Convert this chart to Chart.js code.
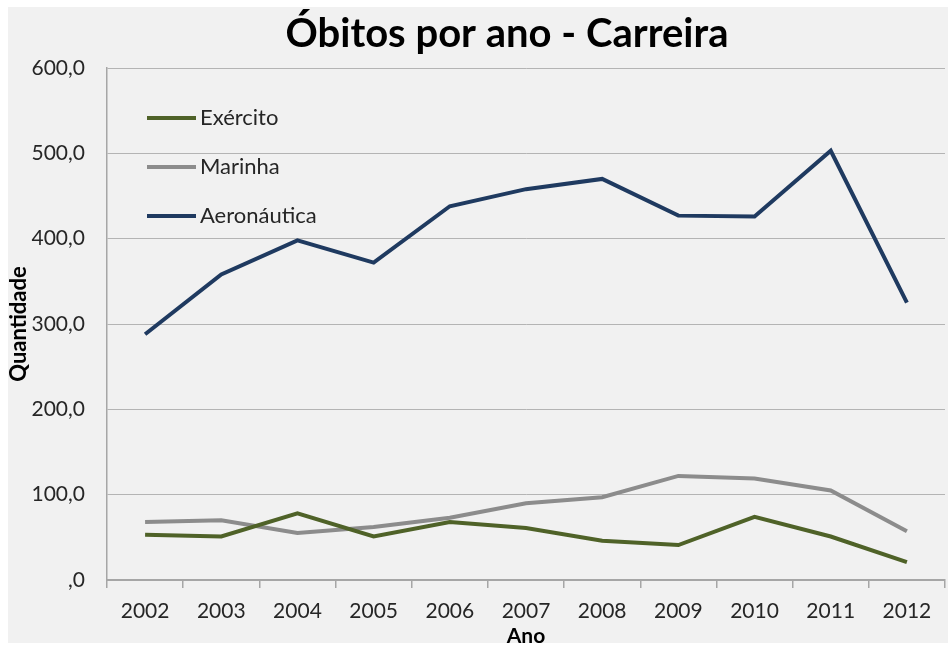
<!DOCTYPE html>
<html>
<head>
<meta charset="utf-8">
<script src="https://cdn.jsdelivr.net/npm/chart.js@4"></script>
<style>
  html, body { margin: 0; padding: 0; background: #ffffff; }
  #wrap { width: 948px; height: 646px; }
</style>
</head>
<body>
<div id="wrap"><canvas id="obitosChart" width="948" height="646"></canvas></div>
<script>
// Óbitos por ano - Carreira

const anos = ['2002', '2003', '2004', '2005', '2006', '2007', '2008', '2009', '2010', '2011', '2012'];
const exercito = [53, 51, 78, 51, 68, 61, 46, 41, 74, 51, 21];
const marinha = [68, 70, 55, 62, 73, 90, 97, 122, 119, 105, 57];
const aeronautica = [288, 358, 398, 372, 438, 458, 470, 427, 426, 503, 325];
const titulo = 'Óbitos por ano - Carreira';

const FONT = 'Lato, "Open Sans", sans-serif';

// fundo cinza claro com margem branca + título
const bgPlugin = {
  id: 'bg',
  beforeDraw(chart) {
    const ctx = chart.ctx;
    ctx.save();
    ctx.fillStyle = '#f1f1f1';
    ctx.fillRect(8, 7, 940, 636);
    ctx.fillStyle = '#000000';
    ctx.font = 'bold 40px ' + FONT;
    ctx.textAlign = 'center';
    ctx.textBaseline = 'alphabetic';
    ctx.fillText(titulo, 507, 47);
    ctx.restore();
  }
};

// legenda desenhada dentro da área do gráfico
const innerLegend = {
  id: 'innerLegend',
  afterDatasetsDraw(chart) {
    const ctx = chart.ctx;
    ctx.save();
    chart.data.datasets.forEach((ds, i) => {
      const y = 118 + i * 49;
      ctx.strokeStyle = ds.borderColor;
      ctx.lineWidth = 4;
      ctx.beginPath();
      ctx.moveTo(147, y);
      ctx.lineTo(196, y);
      ctx.stroke();
      ctx.fillStyle = '#262626';
      ctx.font = '22px ' + FONT;
      ctx.textBaseline = 'middle';
      ctx.fillText(ds.label, 200, y);
    });
    ctx.restore();
  }
};

function fmt(v) {
  if (v === 0) return ',0';
  return v.toFixed(1).replace('.', ',');
}

const ctx = document.getElementById('obitosChart').getContext('2d');
new Chart(ctx, {
  type: 'line',
  data: {
    labels: anos,
    datasets: [
      { label: 'Exército', data: exercito, borderColor: '#4f6228', borderWidth: 4, pointRadius: 0, tension: 0 },
      { label: 'Marinha', data: marinha, borderColor: '#8c8c8c', borderWidth: 4, pointRadius: 0, tension: 0 },
      { label: 'Aeronáutica', data: aeronautica, borderColor: '#1f3a60', borderWidth: 4, pointRadius: 0, tension: 0 }
    ]
  },
  options: {
    responsive: false,
    animation: false,
    layout: { padding: { left: 0, right: 3, top: 68, bottom: 0 } },
    plugins: {
      legend: { display: false },
      tooltip: { enabled: false },
      title: { display: false }
    },
    scales: {
      x: {
        offset: true,
        grid: { offset: true, drawOnChartArea: false, drawTicks: true, tickLength: 8, color: '#a6a6a6', lineWidth: 1.5 },
        border: { color: '#a6a6a6', width: 2 },
        ticks: { color: '#262626', font: { family: FONT, size: 21 }, padding: 11, maxRotation: 0 },
        title: {
          display: true, text: 'Ano', color: '#000000',
          font: { family: FONT, size: 21, weight: 'bold', lineHeight: 0.9 },
          padding: { top: 0, bottom: 0 }
        },
        afterFit: s => { s.height = 66; }
      },
      y: {
        min: 0,
        max: 600,
        grid: { color: '#b4b4b4', lineWidth: 1, drawTicks: false },
        border: { color: '#a6a6a6', width: 1.5 },
        ticks: { stepSize: 100, color: '#262626', font: { family: FONT, size: 21 }, padding: 22, callback: v => fmt(v) },
        title: {
          display: true, text: 'Quantidade', color: '#000000',
          font: { family: FONT, size: 22, weight: 'bold', lineHeight: 1 },
          padding: { top: 8, bottom: 0 }
        },
        afterFit: s => { s.width = 107; }
      }
    }
  },
  plugins: [bgPlugin, innerLegend]
});
</script>
</body>
</html>
